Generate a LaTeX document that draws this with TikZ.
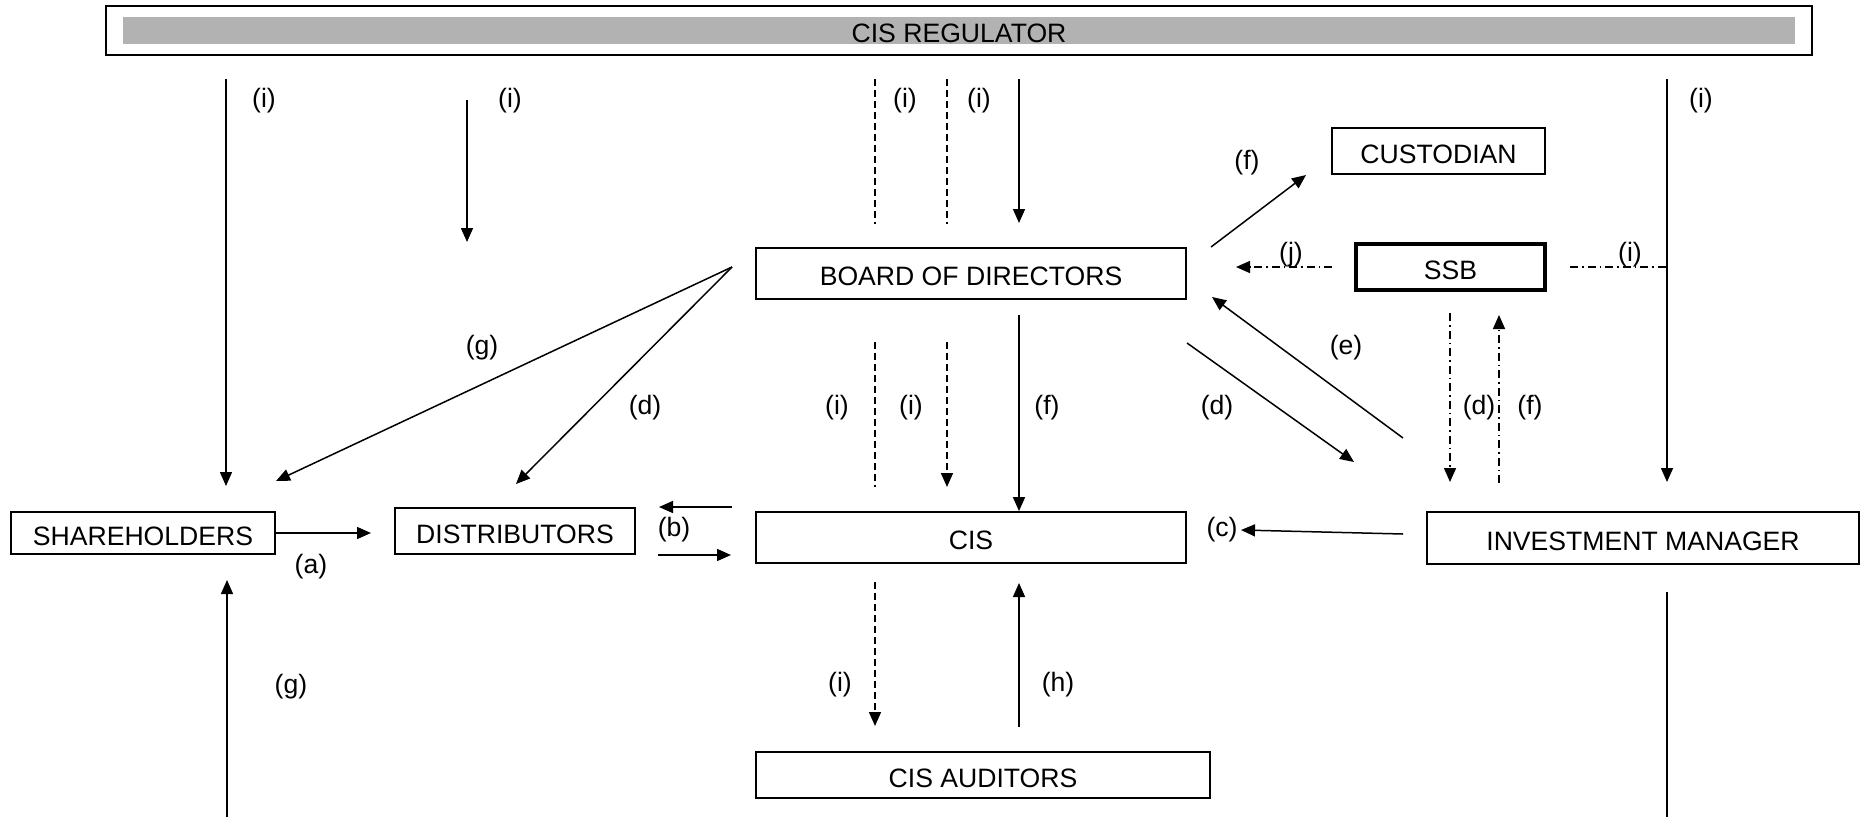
\documentclass[tikz,border=0pt]{standalone}
\usepackage{fontspec}
\setmainfont{Liberation Sans}
\usetikzlibrary{arrows.meta,calc}

\newcommand{\boxfont}{\fontsize{26.6}{32}\selectfont}
\tikzset{
  entity/.style={draw,line width=1.8pt,inner sep=0pt,font=\boxfont,text height=24pt,text depth=0pt},
  lbl/.style={inner sep=0pt,font=\boxfont},
  link/.style={line width=1.5pt},
  arr/.style={link,-{Triangle[length=14pt,width=12pt]}},
  dsh/.style={dash pattern=on 7pt off 4pt},
  dshdot/.style={dash pattern=on 8pt off 4pt on 1.5pt off 4pt}
}

\begin{document}
\begin{tikzpicture}[x=1pt,y=-1pt]
\useasboundingbox (0,0) rectangle (1868,817);

% boxes
\node[fill=gray!60,minimum width=1672pt,minimum height=27pt,inner sep=0pt,font=\boxfont,text height=24pt,text depth=0pt] (reg) at (959,30.5) {CIS REGULATOR};
\draw[line width=1.8pt] ($(reg.south west)+(-17,11)$) rectangle ($(reg.north east)+(17,-11)$);
\node[entity,minimum width=213pt,minimum height=46pt] (cust) at (1438.5,151) {CUSTODIAN};
\node[entity,line width=4pt,minimum width=189pt,minimum height=46pt] (ssb) at (1450.5,267) {SSB};
\node[entity,minimum width=430pt,minimum height=51pt] (board) at (971,273.5) {BOARD OF DIRECTORS};
\node[entity,minimum width=430pt,minimum height=51pt] (cis) at (971,537.5) {CIS};
\node[entity,minimum width=454pt,minimum height=46pt] (aud) at (983,775) {CIS AUDITORS};
\node[entity,minimum width=264pt,minimum height=42pt] (sh) at (143,533) {SHAREHOLDERS};
\node[entity,minimum width=240pt,minimum height=46pt] (dist) at (515,531) {DISTRIBUTORS};
\node[entity,minimum width=432pt,minimum height=52pt] (im) at (1643,538) {INVESTMENT MANAGER};

% free ends
\coordinate (regSh) at (226,79);   \coordinate (shTop) at (226,486);
\coordinate (regA) at (467,100);   \coordinate (regAend) at (467,242);
\coordinate (regB) at (875,79);    \coordinate (regBend) at (875,224);
\coordinate (regC) at (947,79);    \coordinate (regCend) at (947,224);
\coordinate (regBd) at (1019,79);  \coordinate (bdTop) at (1019,223);
\coordinate (regIm) at (1667,79);  \coordinate (imTop) at (1667,482);
\coordinate (bdNE) at (1211,247);  \coordinate (custSW) at (1306,175);
\coordinate (ssbW) at (1332,267);  \coordinate (bdE) at (1236,267);
\coordinate (ssbE) at (1570,267);
\coordinate (bdS) at (1019,315);
\coordinate (bdB) at (875,342);    \coordinate (bdBend) at (875,487);
\coordinate (bdC) at (947,342);    \coordinate (bdCend) at (947,487);
\coordinate (bdW) at (732,267);
\coordinate (shNE) at (276,481);   \coordinate (distN) at (516,484);
\coordinate (bdSE) at (1187,343);  \coordinate (imNW) at (1354,462);
\coordinate (imNWb) at (1403,438); \coordinate (bdSEb) at (1212,297);
\coordinate (ssbD) at (1450,313);  \coordinate (ssbDend) at (1450,482);
\coordinate (ssbU) at (1499,483);  \coordinate (ssbUend) at (1499,315);
\coordinate (distW) at (371,533);
\coordinate (cisWa) at (732,507);  \coordinate (distEa) at (659,507);
\coordinate (distEb) at (658,555); \coordinate (cisWb) at (731,555);
\coordinate (imW) at (1403,534);   \coordinate (cisE) at (1241,530);
\coordinate (cisB) at (875,582);   \coordinate (audB) at (875,726);
\coordinate (audC) at (1019,727);  \coordinate (cisC) at (1019,583);
\coordinate (shLow) at (227,817);  \coordinate (shBot) at (227,580);
\coordinate (imBot) at (1667,592); \coordinate (imLow) at (1667,817);

% connectors
\draw[arr] (regSh) -- (shTop);
\draw[arr] (regA) -- (regAend);
\draw[link,dsh] (regB) -- (regBend);
\draw[link,dsh] (regC) -- (regCend);
\draw[arr] (regBd) -- (bdTop);
\draw[arr] (regIm) -- (imTop);
\draw[arr] (bdNE) -- (custSW);
\draw[arr,dshdot] (ssbW) -- (bdE);
\draw[link,dshdot] (ssbE) -- (regIm |- ssbE);
\draw[arr] (bdS) -- (bdS |- cis.north);
\draw[link,dsh] (bdB) -- (bdBend);
\draw[arr,dsh] (bdC) -- (bdCend);
\draw[arr] (bdW) -- (shNE);
\draw[arr] (bdW) -- (distN);
\draw[arr] (bdSE) -- (imNW);
\draw[arr] (imNWb) -- (bdSEb);
\draw[arr,dshdot] (ssbD) -- (ssbDend);
\draw[arr,dshdot] (ssbU) -- (ssbUend);
\draw[arr] (sh.east) -- (distW);
\draw[arr] (cisWa) -- (distEa);
\draw[arr] (distEb) -- (cisWb);
\draw[arr] (imW) -- (cisE);
\draw[arr,dsh] (cisB) -- (audB);
\draw[arr] (audC) -- (cisC);
\draw[arr] (shLow) -- (shBot);
\draw[link] (imBot) -- (imLow);

% labels
\node[lbl] (l1) at (264,101) {(i)};
\node[lbl] (l2) at (510,101) {(i)};
\node[lbl] (l3) at (905,101) {(i)};
\node[lbl] (l4) at (979,101) {(i)};
\node[lbl] (l5) at (1701,101) {(i)};
\node[lbl] (l6) at (1247,163) {(f)};
\node[lbl] (l7) at (1291,255) {(j)};
\node[lbl] (l8) at (1630,255) {(i)};
\node[lbl] (l9) at (482,348) {(g)};
\node[lbl] (l10) at (1346,348) {(e)};
\node[lbl] (l11) at (645,408) {(d)};
\node[lbl] (l12) at (837,408) {(i)};
\node[lbl] (l13) at (911,408) {(i)};
\node[lbl] (l14) at (1047,408) {(f)};
\node[lbl] (l15) at (1217,408) {(d)};
\node[lbl] (l16) at (1479,408) {(d)};
\node[lbl] (l17) at (1530,408) {(f)};
\node[lbl] (l18) at (311,567) {(a)};
\node[lbl] (l19) at (674,530) {(b)};
\node[lbl] (l20) at (1222,530) {(c)};
\node[lbl] (l21) at (291,687) {(g)};
\node[lbl] (l22) at (840,685) {(i)};
\node[lbl] (l23) at (1058,685) {(h)};
\end{tikzpicture}
\end{document}
